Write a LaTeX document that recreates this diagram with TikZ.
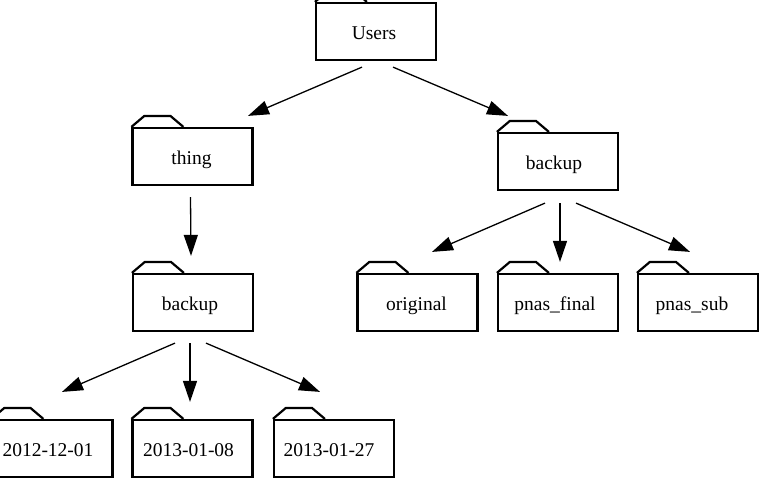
\documentclass[tikz,border=0pt]{standalone}
\usepackage{fontspec}
\setmainfont{Liberation Serif}
\usetikzlibrary{arrows.meta}
\tikzset{
  fold/.style={draw, line width=2.2pt, minimum width=120pt, minimum height=57pt,
    inner sep=0pt, text height=16pt, text depth=0pt,
    font=\fontsize{19.5}{22}\selectfont},
  tab/.style={line width=2.2pt, line join=miter},
  arr/.style={line width=1.3pt, -{Triangle[length=21pt,width=14pt]}}
}
\begin{document}
\begin{tikzpicture}[x=1pt,y=-1pt]
\useasboundingbox (0,0) rectangle (762,482);
% nodes
\node[fold] (users) at (376,31.5) {Users\kern4pt};
\node[fold] (thing) at (192.5,156.5) {thing\kern2pt};
\node[fold] (bkR) at (558,161.5) {backup\kern8pt};
\node[fold] (bkL) at (193,302.5) {backup\kern6pt};
\node[fold] (orig) at (417.5,302.5) {original\kern2pt};
\node[fold] (pfin) at (558,302.5) {pnas\_final\kern6pt};
\node[fold] (psub) at (698,302.5) {pnas\_sub\kern12pt};
\node[fold] (d1) at (52.5,448.5) {2012-12-01\kern9pt};
\node[fold] (d2) at (192.5,448.5) {2013-01-08\kern8pt};
\node[fold] (d3) at (334,448.5) {2013-01-27\kern10pt};
% folder tabs
\foreach \n in {users,thing,bkR,bkL,orig,pfin,psub,d1,d2,d3}
  \draw[tab] (\n.north west) -- ++(13,-11) -- ++(26,0) -- ++(13,11);
% edges
\draw[arr] ([shift={(-14,6)}]users.south) -- ([shift={(55.5,-11)}]thing.north);
\draw[arr] ([shift={(17,6)}]users.south) -- ([shift={(-50,-16)}]bkR.north);
\draw[arr] ([shift={(-2,11)}]thing.south) -- ([shift={(-2,-17)}]bkL.north);
\draw[arr] ([shift={(-18,11)}]bkL.south) -- ([shift={(9.5,-27)}]d1.north);
\draw[arr] ([shift={(-3,11)}]bkL.south) -- ([shift={(-2.5,-17)}]d2.north);
\draw[arr] ([shift={(13,11)}]bkL.south) -- ([shift={(-14,-27)}]d3.north);
\draw[arr] ([shift={(-13,12)}]bkR.south) -- ([shift={(14.5,-21)}]orig.north);
\draw[arr] ([shift={(2,12)}]bkR.south) -- ([shift={(2,-11)}]pfin.north);
\draw[arr] ([shift={(18,12)}]bkR.south) -- ([shift={(-8,-21)}]psub.north);
\end{tikzpicture}
\end{document}
